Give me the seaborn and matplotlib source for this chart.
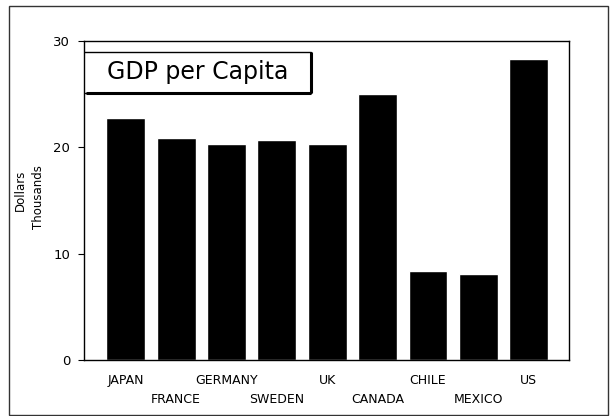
import matplotlib
matplotlib.use("Agg")
import matplotlib.pyplot as plt
import seaborn as sns
import pandas as pd
from matplotlib.patches import Rectangle

# GDP per capita, thousands of dollars
countries = ["JAPAN", "FRANCE", "GERMANY", "SWEDEN", "UK",
             "CANADA", "CHILE", "MEXICO", "US"]
gdp = [22.8, 20.9, 20.3, 20.7, 20.3, 25.0, 8.4, 8.1, 28.3]
yticks = [0, 10, 20, 30]

sns.set_theme(style="white")
plt.rcParams['font.family'] = ['DejaVu Sans']
plt.rcParams['xtick.color'] = 'black'
plt.rcParams['ytick.color'] = 'black'
plt.rcParams['xtick.labelcolor'] = 'black'
plt.rcParams['ytick.labelcolor'] = 'black'

df = pd.DataFrame({"country": countries, "gdp": gdp})

fig = plt.figure(figsize=(6.1, 4.16), dpi=100)
ax = fig.add_axes([0.1377, 0.1346, 0.795, 0.7668])

sns.barplot(data=df, x="country", y="gdp", color="black", saturation=1,
            width=0.77, ax=ax)

ax.set_xlim(-0.83, 8.8)
ax.set_ylim(0, 30)
ax.set_yticks(yticks)
ax.set_yticklabels([str(t) for t in yticks], fontsize=9.5)
ax.set_xlabel("")
ax.set_ylabel("")

ax.set_xticks(range(len(countries)))
ax.set_xticklabels(countries, fontsize=9)
ax.tick_params(axis="x", length=0, pad=10)
ax.tick_params(axis="y", direction="out", length=4, width=0.8, color="black",
               left=True, pad=6)
# staggered country labels: every second one drops a row
for i, tick in enumerate(ax.xaxis.get_major_ticks()):
    if i % 2 == 1:
        tick.set_pad(23.5)

for sp in ax.spines.values():
    sp.set_color("black")
    sp.set_linewidth(1.0)

# title box with a drop-shadow edge
ax.add_patch(Rectangle((0, 0.8375), 0.468, 0.1285, transform=ax.transAxes,
                       facecolor="white", edgecolor="black", lw=1, zorder=5))
ax.plot([0.004, 0.468], [0.8375, 0.8375], transform=ax.transAxes,
        color="black", lw=2.2, zorder=6, solid_capstyle="butt")
ax.plot([0.468, 0.468], [0.8375, 0.966], transform=ax.transAxes,
        color="black", lw=2.2, zorder=6, solid_capstyle="butt")
ax.text(0.234, 0.902, "GDP per Capita", transform=ax.transAxes,
        ha="center", va="center", fontsize=17, color="black", zorder=7)

# y axis caption, two stacked lines
fig.text(20 / 610, 1 - 190 / 416, "Dollars", rotation=90, ha="center",
         va="center", fontsize=8.5, color="black")
fig.text(38 / 610, 1 - 197 / 416, "Thousands", rotation=90, ha="center",
         va="center", fontsize=8.5, color="black")

# outer frame
fig.patches.append(Rectangle((8.5 / 610, 0.002), 599 / 610, 1 - 5.5 / 416 - 0.002,
                             transform=fig.transFigure, fill=False,
                             edgecolor="#333333", lw=1.0))

fig.savefig("out.png", dpi=100)
